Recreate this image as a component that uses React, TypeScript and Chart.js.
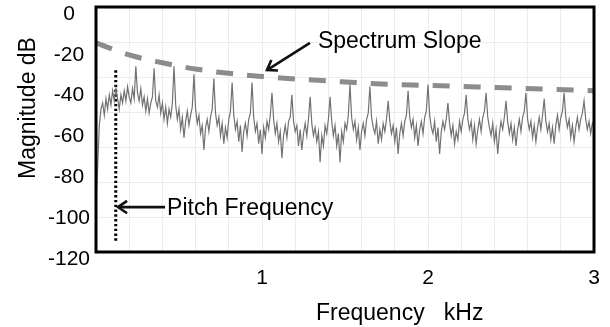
import React, { useEffect, useRef } from 'react';
import { Chart, registerables } from 'chart.js';

Chart.register(...registerables);

// Sampling step of the spectrum (kHz between successive samples, starting at 0 kHz)
const FREQ_STEP_KHZ = 0.01;

// Magnitude spectrum in dB, one value per sample (0.00 .. 3.00 kHz)
const SPECTRUM_DB: number[] = [
  -96, -78, -58, -50, -47, -53, -45, -50, -43, -48, -41, -46,
  -40,
  -45, -50, -43, -47, -41, -46, -39, -44, -47, -40, -45,
  -29,
  -42, -46, -40, -48, -44, -51, -45, -52, -47, -44,
  -30,
  -46, -49, -43, -52, -47, -55, -49, -57, -50, -54, -47,
  -29,
  -48, -55, -50, -60, -54, -64, -56, -51, -58, -53, -49,
  -33,
  -50, -57, -53, -62, -58, -70, -59, -55, -61, -54, -50,
  -35,
  -52, -58, -54, -63, -57, -67, -59, -64, -55, -51,
  -37,
  -53, -60, -56, -66, -58, -71, -61, -57, -63, -55, -52,
  -37,
  -54, -61, -57, -67, -60, -72, -59, -64, -56, -60, -53,
  -42,
  -55, -62, -57, -66, -61, -74, -63, -58, -64, -56, -54,
  -43,
  -56, -61, -58, -68, -60, -70, -62, -57, -63, -55,
  -44,
  -57, -63, -59, -66, -61, -76, -63, -68, -58, -62, -55,
  -44,
  -56, -63, -58, -68, -62, -76, -61, -66, -57, -60, -53,
  -38,
  -54, -60, -56, -65, -59, -70, -61, -57, -63, -55, -52,
  -39,
  -54, -59, -62, -56, -67, -60, -65, -57, -61, -55,
  -46,
  -56, -62, -58, -66, -59, -72, -62, -57, -63, -56, -53,
  -41,
  -54, -59, -55, -64, -58, -68, -60, -56, -62, -54, -51,
  -38,
  -53, -59, -62, -56, -66, -59, -72, -61, -56, -60, -55,
  -47,
  -57, -63, -58, -67, -61, -65, -56, -61, -55, -52,
  -43,
  -55, -60, -56, -65, -58, -67, -60, -55, -61, -54, -51,
  -42,
  -54, -59, -63, -57, -66, -60, -72, -62, -56, -60, -54,
  -46,
  -56, -62, -57, -65, -59, -68, -60, -55, -61, -54, -51,
  -42,
  -55, -60, -56, -64, -58, -66, -59, -54, -60, -53,
  -45,
  -56, -61, -57, -65, -59, -67, -58, -53, -60, -54, -51,
  -42,
  -54, -59, -55, -64, -58, -66, -59, -54, -60, -55, -52,
  -46,
  -55, -60, -56, -62, -57, -59,
];

// Spectrum slope (envelope) points
const SLOPE_FREQ_KHZ = [0, 0.2, 0.4, 0.6, 0.8, 1.0, 1.25, 1.5, 1.75, 2.0, 2.5, 3.0];
const SLOPE_DB = [-17.6, -23.5, -27.3, -30.4, -32.5, -34.0, -35.5, -36.7, -37.8, -38.4, -39.7, -41.0];

// Pitch frequency marker
const PITCH_KHZ = 0.119;
const PITCH_LINE_DB = [-31, -115.5];

// Axis ranges / ticks
const X_MIN = 0;
const X_MAX = 3;
const X_GRID_STEP = 0.2;
const X_TICK_LABELS = [1, 2, 3];
const Y_MIN = -120;
const Y_MAX = 0;
const Y_TICK_STEP = 20;
const H_GRID_DIVISIONS = 7;

// Annotations (data coordinates: [kHz, dB])
const ANNOTATIONS = [
  { text: 'Spectrum Slope', textAt: [1.337, -20.2], from: [1.289, -17.6], to: [1.03, -30.9] },
  { text: 'Pitch Frequency', textAt: [0.428, -101.9], from: [0.416, -98], to: [0.1325, -98] },
];
const X_TITLE = 'Frequency   kHz';
const Y_TITLE = 'Magnitude dB';

const FONT_FAMILY = '"Liberation Sans", Arial, Helvetica, sans-serif';

const overlayPlugin = {
  id: 'overlay',
  afterDatasetsDraw(chart: any) {
    const { ctx, chartArea: a, scales } = chart;
    const xs = scales.x;
    const ys = scales.y;
    ctx.save();
    // frame
    ctx.strokeStyle = '#000';
    ctx.lineWidth = 3;
    ctx.strokeRect(a.left, a.top, a.right - a.left, a.bottom - a.top);

    // annotations with arrows
    ctx.font = `23px ${FONT_FAMILY}`;
    ctx.fillStyle = '#000';
    ctx.textAlign = 'left';
    ctx.textBaseline = 'alphabetic';
    for (const an of ANNOTATIONS) {
      ctx.fillText(an.text, xs.getPixelForValue(an.textAt[0]), ys.getPixelForValue(an.textAt[1]));
      const x1 = xs.getPixelForValue(an.from[0]);
      const y1 = ys.getPixelForValue(an.from[1]);
      const x2 = xs.getPixelForValue(an.to[0]);
      const y2 = ys.getPixelForValue(an.to[1]);
      ctx.strokeStyle = '#111';
      ctx.lineWidth = 2.6;
      ctx.lineCap = 'butt';
      ctx.beginPath();
      ctx.moveTo(x1, y1);
      ctx.lineTo(x2, y2);
      ctx.stroke();
      const ang = Math.atan2(y2 - y1, x2 - x1);
      const L = 11;
      const spread = 0.6;
      ctx.beginPath();
      ctx.moveTo(x2 - L * Math.cos(ang - spread), y2 - L * Math.sin(ang - spread));
      ctx.lineTo(x2, y2);
      ctx.lineTo(x2 - L * Math.cos(ang + spread), y2 - L * Math.sin(ang + spread));
      ctx.stroke();
    }

    // axis titles
    ctx.fillStyle = '#000';
    ctx.font = `23px ${FONT_FAMILY}`;
    ctx.textAlign = 'left';
    ctx.fillText(X_TITLE, a.left + 220, a.bottom + 68);
    ctx.save();
    ctx.translate(a.left - 61, a.top + 101);
    ctx.rotate(-Math.PI / 2);
    ctx.textAlign = 'center';
    ctx.fillText(Y_TITLE, 0, 0);
    ctx.restore();

    ctx.restore();
  },
};

export default function App() {
  const canvasRef = useRef<HTMLCanvasElement | null>(null);

  useEffect(() => {
    document.body.style.margin = '0';
    const canvas = canvasRef.current;
    if (!canvas) return;

    const spectrum = SPECTRUM_DB.map((v, i) => ({ x: i * FREQ_STEP_KHZ, y: v }));
    const slope = SLOPE_FREQ_KHZ.map((f, i) => ({ x: f, y: SLOPE_DB[i] }));
    const pitch = PITCH_LINE_DB.map((v) => ({ x: PITCH_KHZ, y: v }));

    const chart = new Chart(canvas, {
      type: 'line',
      data: {
        datasets: [
          {
            label: 'Spectrum',
            data: spectrum,
            borderColor: '#727272',
            borderWidth: 1.2,
            pointRadius: 0,
            tension: 0,
          },
          {
            label: 'Spectrum Slope',
            data: slope,
            borderColor: '#8c8c8c',
            borderWidth: 5,
            borderDash: [17, 14],
            borderCapStyle: 'butt',
            pointRadius: 0,
            cubicInterpolationMode: 'monotone',
          },
          {
            label: 'Pitch Frequency',
            data: pitch,
            borderColor: '#000',
            borderWidth: 3,
            borderDash: [2.4, 2.4],
            pointRadius: 0,
          },
        ],
      },
      options: {
        responsive: false,
        animation: false,
        devicePixelRatio: 1,
        layout: { padding: { left: 0, top: 7, right: 16, bottom: 0 } },
        plugins: {
          legend: { display: false },
          tooltip: { enabled: false },
        },
        scales: {
          x: {
            type: 'linear',
            min: X_MIN,
            max: X_MAX,
            border: { display: false },
            grid: { color: '#ececec', lineWidth: 1, drawTicks: false },
            ticks: {
              stepSize: X_GRID_STEP,
              autoSkip: false,
              maxRotation: 0,
              padding: 14,
              color: '#000',
              font: { family: FONT_FAMILY, size: 21 },
              callback: (v: any) => {
                const n = Number(v);
                const r = Math.round(n);
                return Math.abs(n - r) < 1e-6 && X_TICK_LABELS.includes(r) ? String(r) : '';
              },
            },
            afterFit: (s: any) => {
              s.height = 75;
              s.paddingLeft = 0;
              s.paddingRight = 0;
            },
          },
          y: {
            type: 'linear',
            position: 'left',
            min: Y_MIN,
            max: Y_MAX,
            border: { display: false },
            grid: { display: false, drawTicks: false },
            ticks: {
              stepSize: Y_TICK_STEP,
              crossAlign: 'center',
              labelOffset: 7,
              padding: 6,
              color: '#000',
              font: { family: FONT_FAMILY, size: 21 },
            },
            afterFit: (s: any) => {
              s.width = 96;
              s.paddingTop = 0;
              s.paddingBottom = 0;
            },
          },
          yg: {
            type: 'linear',
            position: 'right',
            min: 0,
            max: H_GRID_DIVISIONS,
            border: { display: false },
            grid: { color: '#ececec', lineWidth: 1, drawTicks: false },
            ticks: { display: false, stepSize: 1 },
            afterFit: (s: any) => {
              s.width = 0;
              s.paddingTop = 0;
              s.paddingBottom = 0;
            },
          },
        },
      },
      plugins: [overlayPlugin],
    } as any);

    return () => chart.destroy();
  }, []);

  return <canvas ref={canvasRef} width={610} height={327} style={{ display: 'block' }} />;
}
